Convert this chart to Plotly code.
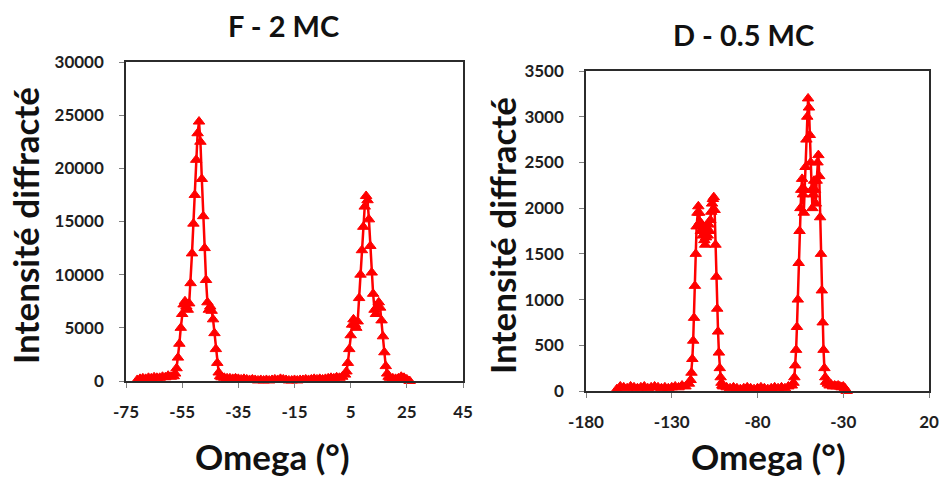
import plotly.graph_objects as go

# ---------------- Data: F - 2 MC ----------------
omega_F = ([-71, -70, -69, -68, -67, -66, -65, -64, -63, -62, -61, -60, -59, -58]
           + [-57.5, -57, -56.5, -56, -55.5, -55, -54.5, -54, -53.5, -53, -52.5, -52,
              -51.5, -51, -50.5, -50, -49.5, -49, -48.5, -48, -47.5, -47, -46.5, -46,
              -45.5, -45, -44.5, -44, -43.5, -43, -42.5, -42, -41.5, -41]
           + [-40, -39, -38, -37, -36, -35, -34, -33, -32, -31, -30, -29, -28, -27, -26,
              -25, -24, -23, -22, -21, -20, -19, -18, -17, -16, -15, -14, -13, -12, -11,
              -10, -9, -8, -7, -6, -5, -4, -3, -2, -1, 0, 1, 2, 3]
           + [3.5, 4, 4.5, 5, 5.5, 6, 6.5, 7, 7.5, 8, 8.5, 9, 9.5, 10, 10.5, 11, 11.5, 12,
              12.5, 13, 13.5, 14, 14.5, 15, 15.5, 16, 16.5, 17, 17.5, 18, 18.5]
           + [19, 20, 21, 22, 23, 24, 25, 26])
intensity_F = ([100, 200, 250, 200, 300, 250, 350, 300, 300, 400, 350, 500, 400, 450]
               + [700, 1200, 2200, 3500, 5000, 6300, 7200, 7500, 7000, 6700, 7300, 9200,
                  12000, 14800, 17500, 20800, 23300, 24400, 22500, 19000, 15500, 12500, 9500, 7400,
                  6700, 7000, 6600, 5800, 4500, 3000, 1700, 800, 450, 350]
               + [300, 250, 250, 200, 250, 200, 150, 200, 150, 100, 150, 100, 50, 100, 50,
                  100, 50, 100, 150, 100, 200, 150, 100, 50, 50, 100, 50, 100, 100, 150,
                  100, 150, 200, 150, 200, 150, 200, 250, 300, 250, 350, 300, 400, 600]
               + [900, 1700, 3000, 4300, 5300, 5800, 5300, 5000, 5600, 7800, 10000, 12300, 14500,
                  16400, 17400, 17000, 15200, 12700, 10200, 8200, 6700, 6300, 7000, 7400, 6900,
                  5700, 4200, 2700, 1400, 700, 400]
               + [300, 250, 200, 250, 400, 300, 150, 0])

# ---------------- Data: D - 0.5 MC ----------------
omega_D = ([-162, -160, -158, -156, -154, -152, -150, -148, -146, -144, -142, -140, -138,
            -136, -134, -132, -130, -128, -126, -124, -122, -120]
           + [-119, -118.5, -118, -117.5, -117, -116.5, -116, -115.5, -115, -114.5, -114,
              -113.5, -113, -112.5, -112, -111.5, -111, -110.5, -110, -109.5, -109, -108.5,
              -108, -107.5, -107, -106.5, -106, -105.5, -105, -104.5, -104, -103.5, -103,
              -102.5, -102, -101.5, -101, -100.5, -100]
           + [-98, -96, -94, -92, -90, -88, -86, -84, -82, -80, -78, -76, -74, -72, -70,
              -68, -66, -64, -62, -60]
           + [-59, -58.5, -58, -57.5, -57, -56.5, -56, -55.5, -55, -54.5, -54, -53.5, -53,
              -52.5, -52, -51.5, -51, -50.5, -50, -49.5, -49, -48.5, -48, -47.5, -47, -46.5,
              -46, -45.5, -45, -44.5, -44, -43.5, -43, -42.5, -42, -41.5, -41, -40.5, -40]
           + [-39, -38, -37, -36, -35, -34, -33, -32, -31, -30, -29, -28])
intensity_D = ([20, 50, 40, 30, 50, 40, 30, 40, 50, 30, 40, 50, 40, 30, 40, 30, 40, 50, 40,
                60, 50, 80]
               + [120, 200, 350, 550, 800, 1150, 1500, 1800, 1950, 2020,
                  1950, 1850, 1750, 1820, 1700, 1780, 1650, 1600, 1680, 1760,
                  1700, 1820, 1750, 1870, 1960, 2050, 2100, 2120, 1980, 1600,
                  1250, 900, 650, 420, 250, 150, 90, 60, 50]
               + [40, 30, 40, 30, 20, 30, 40, 30, 20, 30, 40, 30, 20, 30, 40, 30, 40, 30, 50, 60]
               + [90, 150, 280, 450, 700, 1000, 1400, 1750, 2000, 2200,
                  2320, 2150, 1950, 2200, 2450, 2750, 3000, 3200, 3100, 2800,
                  2500, 2200, 2000, 2150, 2300, 2200, 2050, 2300, 2500, 2580,
                  2350, 1900, 1500, 1100, 750, 450, 250, 150, 100]
               + [80, 60, 70, 50, 60, 50, 60, 50, 40, 50, 30, 0])

assert len(omega_F) == len(intensity_F)
assert len(omega_D) == len(intensity_D)

# ---------------- Ticks ----------------
xticks_F = [-75, -55, -35, -15, 5, 25, 45]
yticks_F = [0, 5000, 10000, 15000, 20000, 25000, 30000]
xticks_D = [-180, -130, -80, -30, 20]
yticks_D = [0, 500, 1000, 1500, 2000, 2500, 3000, 3500]

title_F = "F - 2 MC"
title_D = "D - 0.5 MC"
ytitle = "Intensité diffracté"
xtitle = "Omega (°)"

W, H = 939, 479
RED = "#ff0000"
FONT = "Lato"
TICKFONT = dict(family=FONT, size=17, color="#1e1e1e", weight="bold")

fig = go.Figure()

marker = dict(symbol="triangle-up", size=10, color=RED, line=dict(color=RED, width=1))
fig.add_trace(go.Scatter(x=omega_F, y=intensity_F, mode="lines+markers",
                         line=dict(color=RED, width=2.5), marker=marker,
                         xaxis="x", yaxis="y", showlegend=False, cliponaxis=False))
fig.add_trace(go.Scatter(x=omega_D, y=intensity_D, mode="lines+markers",
                         line=dict(color=RED, width=2.5), marker=marker,
                         xaxis="x2", yaxis="y2", showlegend=False, cliponaxis=False))

def px_x(p):
    return p / W

def px_y(p):
    return 1 - p / H

axis_common = dict(showline=True, linecolor="#2b2b2b", linewidth=1.5, mirror=True,
                   showgrid=False, zeroline=False, ticks="outside", ticklen=5,
                   tickcolor="#7f7f7f", tickwidth=1, tickfont=TICKFONT,
                   exponentformat="none", separatethousands=False, automargin=False)

fig.update_layout(
    width=W, height=H,
    margin=dict(l=0, r=0, t=0, b=0),
    paper_bgcolor="white", plot_bgcolor="white",
    xaxis=dict(domain=[px_x(126), px_x(463)], range=[-75, 45], anchor="y",
               tickvals=xticks_F, ticktext=[str(v) for v in xticks_F],
               ticklabelstandoff=10, **axis_common),
    yaxis=dict(domain=[px_y(381), px_y(62)], range=[0, 30000], anchor="x",
               tickvals=yticks_F, ticktext=[str(v) for v in yticks_F],
               ticklabelstandoff=12, **axis_common),
    xaxis2=dict(domain=[px_x(586), px_x(929)], range=[-180, 20], anchor="y2",
                tickvals=xticks_D, ticktext=[str(v) for v in xticks_D],
                ticklabelstandoff=10, **axis_common),
    yaxis2=dict(domain=[px_y(391), px_y(71)], range=[0, 3500], anchor="x2",
                tickvals=yticks_D, ticktext=[str(v) for v in yticks_D],
                ticklabelstandoff=12, **axis_common),
)

def ann(text, x, y, size, angle=0):
    fig.add_annotation(text=text, x=px_x(x), y=px_y(y), xref="paper", yref="paper",
                       xanchor="center", yanchor="middle", showarrow=False,
                       textangle=angle,
                       font=dict(family=FONT, size=size, color="#111111", weight="bold"))

ann(title_F, 283, 25, 29)
ann(title_D, 743, 35, 29)
ann(ytitle, 25, 226, 35, -90)
ann(ytitle, 502, 236, 35, -90)
ann(xtitle, 272, 456, 35)
ann(xtitle, 768, 456, 35)

fig.write_html("out.html",
               config={"displayModeBar": False},
               post_script="document.body.style.margin='0';document.body.style.overflow='hidden';")
